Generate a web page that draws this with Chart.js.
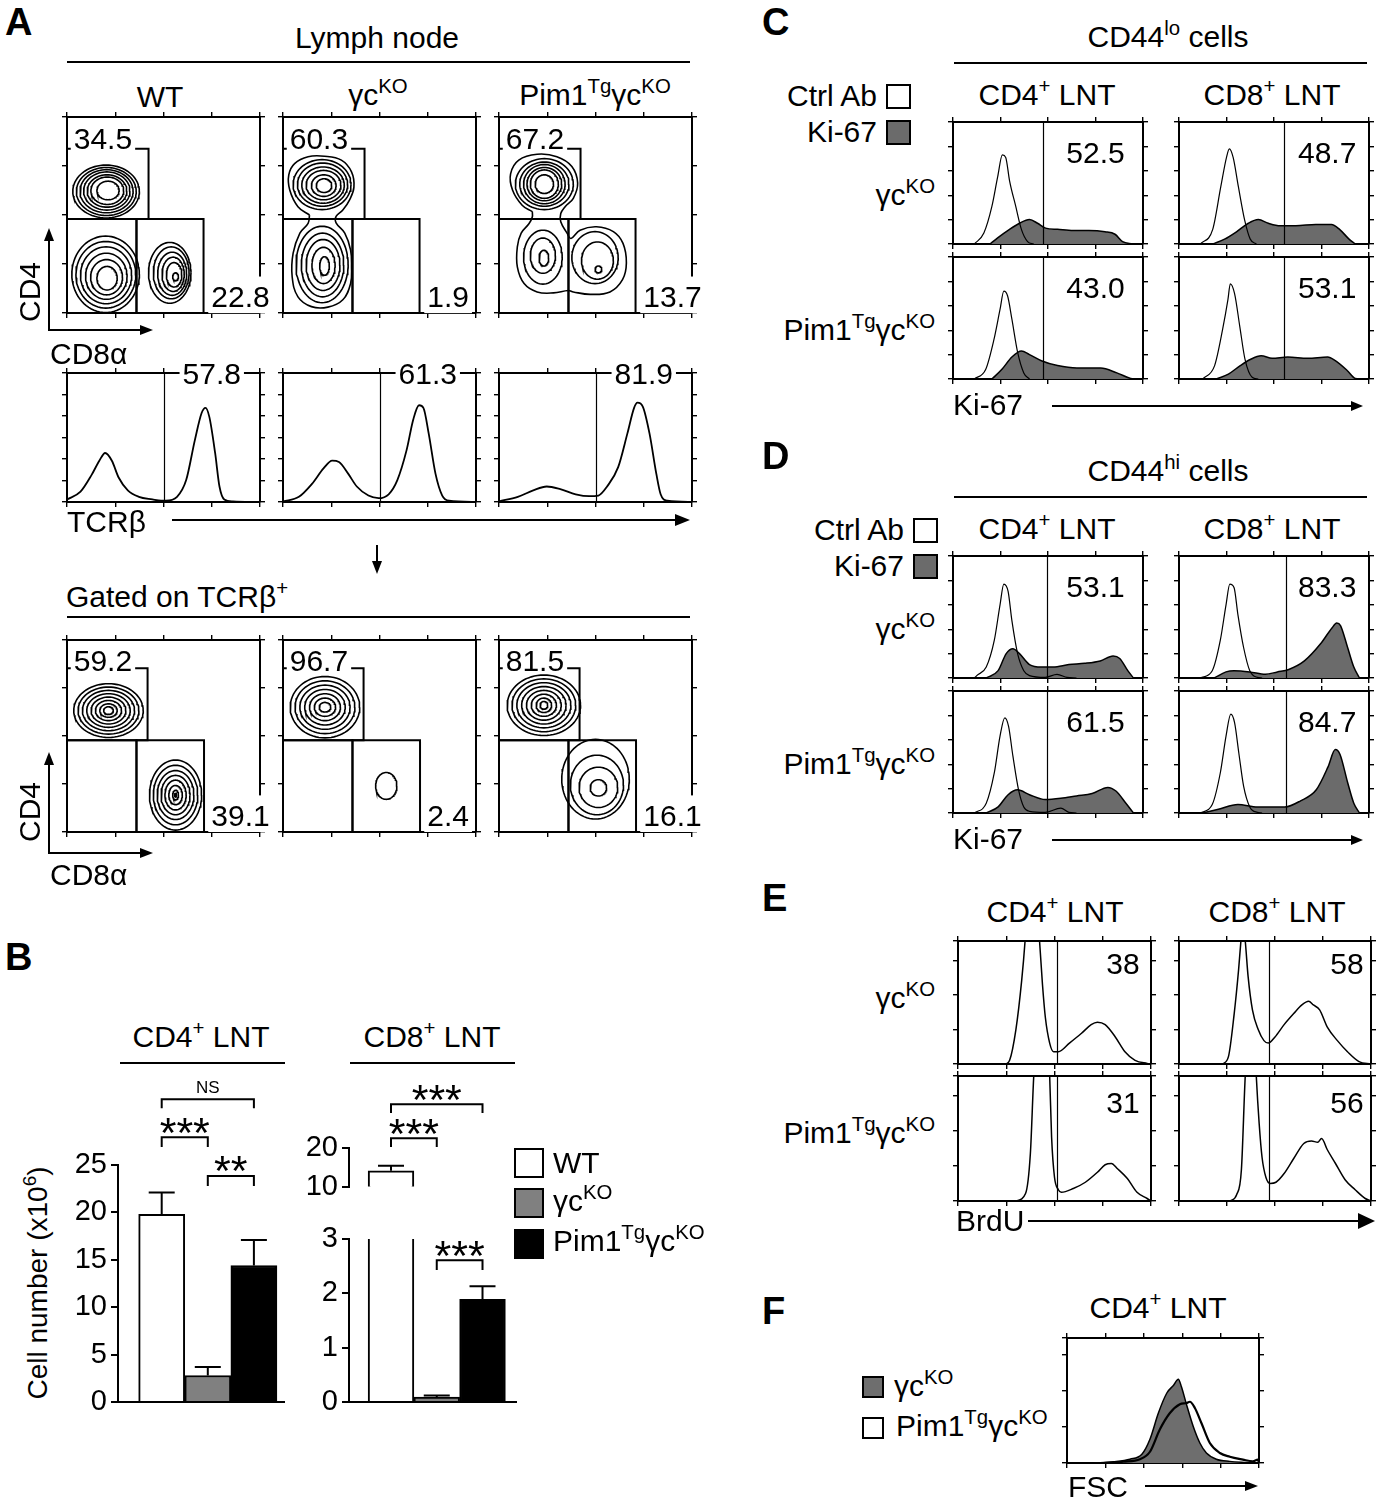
<!DOCTYPE html>
<html><head><meta charset="utf-8"><title>Figure</title>
<script src="https://cdn.jsdelivr.net/npm/chart.js@4.4.1/dist/chart.umd.min.js"></script>
<style>
html,body{margin:0;padding:0;background:#fff;}
#root{position:relative;width:1379px;height:1500px;overflow:hidden;background:#fff;font-family:"Liberation Sans",Arial,Helvetica,sans-serif;color:#000;}
#root canvas{position:absolute;}
.t{position:absolute;white-space:nowrap;line-height:1;}
.t sup{font-size:0.68em;line-height:0;vertical-align:0.58em;}
.hl{position:absolute;background:#000;}
.tri{position:absolute;width:0;height:0;}
.box{position:absolute;box-sizing:border-box;border:2px solid #000;}
</style></head><body><div id="root"></div>
<script>
// ======================= DATA =======================
// Panel A: contour plots (x = CD8α decades 0-4, y = CD4 decades 0-4); rings = [cx, cy, rx, ry]
const ringsTopWT = [
  [0.81,2.48,0.69,0.54],[0.815,2.48,0.62,0.49],[0.82,2.485,0.55,0.44],[0.825,2.49,0.48,0.39],[0.83,2.49,0.41,0.33],[0.835,2.495,0.34,0.28],[0.85,2.5,0.23,0.19],
  [0.8,0.79,0.7,0.78],[0.805,0.78,0.62,0.68],[0.81,0.77,0.53,0.58],[0.815,0.75,0.43,0.47],[0.82,0.73,0.33,0.36],[0.83,0.71,0.21,0.24],
  [2.13,0.82,0.44,0.62],[2.16,0.82,0.37,0.53],[2.18,0.8,0.3,0.44],[2.2,0.79,0.23,0.35],[2.22,0.78,0.16,0.25],[2.25,0.74,0.06,0.08]
];
const ringsTopGC = [
  [0.81,2.62,0.6,0.51],[0.82,2.62,0.52,0.44],[0.83,2.61,0.44,0.37],[0.84,2.61,0.36,0.3],[0.845,2.6,0.255,0.22],[0.85,2.6,0.16,0.14],
  [0.81,0.99,0.54,0.78],[0.82,0.98,0.44,0.65],[0.83,0.98,0.35,0.52],[0.84,0.97,0.24,0.37],[0.86,0.96,0.1,0.19]
];
const outlineTopGC = [[0.55,2.0],[0.31,2.17],[0.14,2.51],[0.12,2.82],[0.24,3.05],[0.52,3.19],[0.86,3.2],[1.21,3.12],[1.42,2.88],[1.47,2.57],[1.38,2.31],[1.24,2.1],[1.1,1.97],[1.1,1.84],[1.28,1.63],[1.4,1.29],[1.42,0.95],[1.4,0.6],[1.24,0.27],[0.93,0.12],[0.59,0.13],[0.31,0.33],[0.19,0.74],[0.21,1.22],[0.35,1.63],[0.52,1.83],[0.55,2.0]];
const ringsTopPim = [
  [0.94,2.63,0.6,0.52],[0.94,2.63,0.51,0.45],[0.94,2.63,0.43,0.4],[0.94,2.63,0.36,0.34],[0.94,2.63,0.29,0.29],[0.94,2.63,0.19,0.19],
  [0.91,1.14,0.4,0.55],[0.91,1.17,0.26,0.36],[0.93,1.12,0.1,0.16],
  [1.99,1.13,0.48,0.53],[2.04,1.07,0.33,0.38],[2.06,0.89,0.07,0.07]
];
const outlineTopPim = [[0.69,2.07],[0.48,2.2],[0.28,2.51],[0.24,2.84],[0.41,3.12],[0.79,3.24],[1.2,3.19],[1.51,2.99],[1.63,2.65],[1.54,2.34],[1.37,2.17],[1.28,2.03],[1.28,1.86],[1.41,1.63],[1.49,1.52],[1.68,1.69],[2.02,1.76],[2.37,1.66],[2.57,1.42],[2.64,1.02],[2.56,0.68],[2.3,0.43],[1.89,0.38],[1.54,0.43],[1.44,0.46],[1.13,0.41],[0.79,0.43],[0.52,0.6],[0.38,0.94],[0.38,1.35],[0.46,1.63],[0.62,1.82],[0.69,1.96],[0.69,2.07]];
const ringsBotWT = [
  [0.86,2.53,0.72,0.56],[0.86,2.53,0.63,0.49],[0.86,2.53,0.54,0.42],[0.86,2.53,0.45,0.35],[0.86,2.53,0.36,0.28],[0.86,2.53,0.27,0.21],[0.86,2.53,0.18,0.14],[0.86,2.53,0.1,0.08],
  [2.25,0.77,0.54,0.73],[2.25,0.77,0.46,0.62],[2.25,0.77,0.38,0.51],[2.25,0.77,0.3,0.41],[2.25,0.77,0.22,0.31],[2.25,0.77,0.14,0.2],[2.25,0.77,0.06,0.1],[2.25,0.77,0.02,0.04]
];
const ringsBotGC = [
  [0.87,2.6,0.72,0.64],[0.87,2.6,0.62,0.55],[0.87,2.6,0.52,0.46],[0.87,2.6,0.42,0.37],[0.87,2.6,0.32,0.28],[0.87,2.6,0.22,0.19],[0.87,2.6,0.12,0.1],
  [2.14,0.96,0.22,0.28]
];
const ringsBotPim = [
  [0.93,2.64,0.76,0.63],[0.93,2.64,0.66,0.55],[0.93,2.64,0.56,0.47],[0.93,2.64,0.46,0.39],[0.93,2.64,0.36,0.31],[0.93,2.64,0.26,0.23],[0.93,2.64,0.16,0.15],[0.93,2.64,0.08,0.08],
  [2.0,1.1,0.7,0.83],[2.03,0.98,0.55,0.62],[2.06,0.93,0.4,0.42],[2.06,0.92,0.17,0.17]
];
// gates [x0, x1, y0, y1]: CD4 SP, DN, CD8 SP
const gatesTop = [[0,1.69,1.92,3.35],[0,1.44,0,1.92],[1.44,2.83,0,1.92]];
const gatesBot = [[0,1.67,1.91,3.41],[0,1.44,0,1.91],[1.44,2.84,0,1.91]];
const pctTopCD4 = ['34.5','60.3','67.2'];
const pctTopCD8 = ['22.8','1.9','13.7'];
const pctBotCD4 = ['59.2','96.7','81.5'];
const pctBotCD8 = ['39.1','2.4','16.1'];
// Panel A: TCRβ histograms [x, % of max]
const histTcrWT = [[0,2],[0.28,8],[0.51,21],[0.67,32],[0.79,38],[0.93,32],[1.07,19],[1.26,9],[1.49,4],[1.77,2],[1.95,1],[2.05,1],[2.28,4],[2.47,17],[2.65,48],[2.79,69],[2.87,73],[2.95,66],[3.07,38],[3.16,12],[3.26,2],[3.44,0.5],[4,0]];
const histTcrGC = [[0,0.5],[0.33,4],[0.6,14],[0.84,26],[1.02,32],[1.16,31],[1.35,22],[1.53,12],[1.77,5],[1.98,3],[2.19,6],[2.37,17],[2.56,40],[2.7,64],[2.82,75],[2.91,73],[3.02,53],[3.16,22],[3.3,5],[3.44,1],[4,0]];
const histTcrPim = [[0,0.5],[0.39,4],[0.71,9],[0.99,12],[1.27,10],[1.59,6],[1.87,4.5],[2.06,5],[2.24,12],[2.47,27],[2.66,53],[2.8,73],[2.87,77],[2.98,74],[3.12,53],[3.26,22],[3.35,6],[3.49,1],[4,0]];
const pctTcr = ['57.8','61.3','81.9'];

// Panel B: cell numbers (x10^6)
const bGroups = ['WT','γcKO','Pim1TgγcKO'];
const bColors = ['#ffffff','#808080','#000000'];
const cd4Mean = [19.8, 2.8, 14.4];
const cd4Sem  = [2.3, 0.9, 2.7];
const cd8Mean = [14.1, 0.09, 1.89];
const cd8Sem  = [1.3, 0.03, 0.24];
const cd4Ticks = [0,5,10,15,20,25];
const cd8HiTicks = [10,20];
const cd8LoTicks = [0,1,2,3];

// Panel C: Ki-67, CD44lo
const cCD4gcCtrl = [[0.45,0],[0.65,9],[0.82,31],[0.94,55],[1.04,73],[1.11,71],[1.19,52],[1.32,31],[1.44,12],[1.57,2],[1.7,0]];
const cCD4gcKi = [[0.78,0],[0.94,5],[1.19,12],[1.4,17],[1.61,20],[1.78,17],[1.95,13],[2.2,12],[2.53,11],[2.86,11],[3.2,10],[3.41,8],[3.57,2],[3.78,0]];
const cCD8gcCtrl = [[0.45,0],[0.71,12],[0.88,47],[1.0,71],[1.06,78],[1.14,71],[1.25,47],[1.38,20],[1.5,4],[1.63,0]];
const cCD8gcKi = [[0.71,0],[0.96,4],[1.21,10],[1.46,17],[1.67,20],[1.88,17],[2.13,15],[2.46,15],[2.88,16],[3.21,16],[3.38,12],[3.58,4],[3.71,0]];
const cCD4pimCtrl = [[0.45,0],[0.69,8],[0.86,32],[0.99,57],[1.07,72],[1.15,68],[1.24,49],[1.36,22],[1.49,5],[1.61,0]];
const cCD4pimKi = [[0.82,0],[1.03,8],[1.24,18],[1.44,23],[1.61,20],[1.86,15],[2.2,11],[2.61,9],[3.11,9],[3.45,5],[3.74,0.5],[3.87,0]];
const cCD8pimCtrl = [[0.5,0],[0.75,11],[0.92,41],[1.03,65],[1.08,78],[1.17,70],[1.28,43],[1.39,16],[1.54,1.4],[1.67,0]];
const cCD8pimKi = [[0.79,0],[1.04,4],[1.29,11],[1.5,16],[1.73,19],[1.96,17],[2.29,18],[2.71,17],[3.13,18],[3.29,15],[3.54,7],[3.71,0.5],[3.83,0]];
const cPct = ['52.5','48.7','43.0','53.1'];

// Panel D: Ki-67, CD44hi
const dCD4gcCtrl = [[0.45,0],[0.5,2],[0.7,9],[0.87,31],[0.99,60],[1.07,77],[1.16,71],[1.24,47],[1.36,20],[1.49,6],[1.61,2],[1.94,0.5],[2.19,3],[2.4,0.5],[2.6,0]];
const dCD4gcKi = [[0.7,0],[0.95,6],[1.12,20],[1.26,24],[1.4,20],[1.61,11],[1.86,9],[2.11,9],[2.44,11],[2.77,12],[3.1,14],[3.37,18],[3.51,16],[3.68,6],[3.8,0]];
const dCD8gcCtrl = [[0.45,0],[0.7,6],[0.87,31],[0.99,60],[1.07,77],[1.16,74],[1.24,52],[1.36,25],[1.49,6],[1.65,0.5],[1.75,0]];
const dCD8gcKi = [[0.74,0],[0.99,5],[1.16,6],[1.49,5],[1.82,3],[2.07,5],[2.31,7],[2.64,14],[2.98,28],[3.22,41],[3.32,45],[3.4,43],[3.55,25],[3.68,9],[3.8,0]];
const dCD4pimCtrl = [[0.45,0],[0.7,8],[0.87,33],[0.99,63],[1.09,78],[1.17,71],[1.26,47],[1.38,19],[1.49,5],[1.61,1.4],[1.94,0.5],[2.27,4],[2.44,0.5],[2.6,0]];
const dCD4pimKi = [[0.7,0],[0.95,5],[1.16,15],[1.36,19],[1.61,15],[1.94,11],[2.27,12],[2.6,14],[2.93,16],[3.26,21],[3.43,18],[3.64,8],[3.8,0]];
const dCD8pimCtrl = [[0.45,0],[0.7,7],[0.87,33],[0.99,63],[1.09,81],[1.17,74],[1.26,49],[1.36,22],[1.49,5],[1.65,0.5],[1.75,0]];
const dCD8pimKi = [[0.5,0],[0.83,3],[1.24,7],[1.65,5],[2.23,5],[2.56,10],[2.89,19],[3.14,38],[3.29,52],[3.39,48],[3.55,25],[3.68,8],[3.8,0]];
const dPct = ['53.1','83.3','61.5','84.7'];

// Panel E: BrdU
const eCD4gc = [[0.99,0],[1.07,3],[1.2,28],[1.32,68],[1.39,100],[1.47,150],[1.55,160],[1.63,140],[1.69,100],[1.75,65],[1.81,38],[1.9,17],[1.98,10],[2.08,10],[2.31,17],[2.56,25],[2.76,32],[2.89,34],[3.05,32],[3.26,22],[3.46,10],[3.67,3],[3.92,0.5],[4,0]];
const eCD8gc = [[0.91,0],[1.03,6],[1.15,41],[1.24,76],[1.29,100],[1.33,115],[1.38,100],[1.44,71],[1.53,44],[1.65,28],[1.77,19],[1.86,17],[2.0,22],[2.19,32],[2.39,41],[2.56,48],[2.7,51],[2.8,48],[2.93,44],[3.09,30],[3.3,19],[3.51,10],[3.75,2],[4,0]];
const eCD4pim = [[1.2,0],[1.4,6],[1.5,38],[1.57,100],[1.66,150],[1.74,165],[1.83,150],[1.9,100],[1.94,51],[2.0,19],[2.08,9],[2.14,7],[2.39,10],[2.64,15],[2.89,23],[3.05,29],[3.18,30],[3.3,26],[3.51,18],[3.71,7],[3.92,2],[4,0]];
const eCD8pim = [[1.07,0],[1.2,5],[1.3,25],[1.38,100],[1.45,140],[1.52,150],[1.57,135],[1.61,100],[1.67,62],[1.73,35],[1.81,19],[1.9,14],[2.02,15],[2.19,22],[2.39,34],[2.6,46],[2.76,48],[2.89,47],[2.97,50],[3.09,41],[3.26,30],[3.46,17],[3.67,9],[3.88,2],[4,0]];
const ePct = ['38','58','31','56'];

// Panel F: FSC
const fGC = [[0.69,0],[1.21,1],[1.64,3],[1.95,7],[2.16,19],[2.38,40],[2.6,56],[2.77,62],[2.9,67],[2.98,61],[3.11,47],[3.29,29],[3.46,16],[3.63,8],[3.89,3],[4.24,1.3],[4.67,0.5],[5,0]];
const fPim = [[0.95,0],[1.47,1],[1.9,3],[2.16,9],[2.42,27],[2.68,40],[2.94,47],[3.11,48],[3.2,49],[3.33,44],[3.5,32],[3.72,16],[3.98,8],[4.24,5],[4.58,2.7],[4.84,1.3],[4.97,2.7],[5,0]];

// ======================= SETUP =======================
const root = document.getElementById('root');
const FONT = '"Liberation Sans", Arial, Helvetica, sans-serif';
const FS = 30;
Chart.defaults.font.family = FONT;
Chart.defaults.color = '#000';
Chart.defaults.animation = false;
Chart.defaults.responsive = false;
Chart.defaults.maintainAspectRatio = false;
Chart.defaults.events = [];
Chart.defaults.plugins.legend.display = false;
Chart.defaults.plugins.tooltip.enabled = false;
const FM = 16;

function T(html, x, y, o = {}) {
  const d = document.createElement('div'); d.className = 't'; d.innerHTML = html;
  d.style.left = x + 'px'; d.style.top = y + 'px'; d.style.fontSize = (o.size || FS) + 'px';
  if (o.bold) d.style.fontWeight = 'bold';
  const ax = o.align === 'left' ? '0%' : (o.align === 'right' ? '-100%' : '-50%');
  d.style.transform = `translate(${ax},-50%)` + (o.rot ? ` rotate(${o.rot}deg)` : '');
  root.appendChild(d);
}
function hline(x1, x2, y, w = 2) { const d = document.createElement('div'); d.className = 'hl'; d.style.left = x1 + 'px'; d.style.top = (y - w / 2) + 'px'; d.style.width = (x2 - x1) + 'px'; d.style.height = w + 'px'; root.appendChild(d); }
function vline(x, y1, y2, w = 2) { const d = document.createElement('div'); d.className = 'hl'; d.style.left = (x - w / 2) + 'px'; d.style.top = y1 + 'px'; d.style.width = w + 'px'; d.style.height = (y2 - y1) + 'px'; root.appendChild(d); }
function tri(css) { const d = document.createElement('div'); d.className = 'tri'; Object.assign(d.style, css); root.appendChild(d); }
function arrowR(x1, x2, y, len, half, w = 2) { hline(x1, x2 - len + 1, y, w); tri({left: (x2 - len) + 'px', top: (y - half) + 'px', borderTop: half + 'px solid transparent', borderBottom: half + 'px solid transparent', borderLeft: len + 'px solid #000'}); }
function arrowU(x, yb, yt, len, half, w = 2) { vline(x, yt + len - 1, yb, w); tri({left: (x - half) + 'px', top: yt + 'px', borderLeft: half + 'px solid transparent', borderRight: half + 'px solid transparent', borderBottom: len + 'px solid #000'}); }
function arrowD(x, yt, yb, len, half, w = 2) { vline(x, yt, yb - len + 1, w); tri({left: (x - half) + 'px', top: (yb - len) + 'px', borderLeft: half + 'px solid transparent', borderRight: half + 'px solid transparent', borderTop: len + 'px solid #000'}); }
function box(x, y, w, h, fill) { const d = document.createElement('div'); d.className = 'box'; Object.assign(d.style, {left: x + 'px', top: y + 'px', width: w + 'px', height: h + 'px', background: fill}); root.appendChild(d); }
function mkCanvas(x, y, w, h) { const c = document.createElement('canvas'); c.width = w; c.height = h; Object.assign(c.style, {left: x + 'px', top: y + 'px', width: w + 'px', height: h + 'px'}); root.appendChild(c); return c; }

// decoration plugin: gate lines and percentage labels placed in data units
const decor = {
  id: 'decor',
  afterDraw(chart, args, o) {
    const ctx = chart.ctx, xs = chart.scales.x, ys = chart.scales.y, ca = chart.chartArea;
    ctx.save();
    (o.vlines || []).forEach(v => {
      const px = Math.round(xs.getPixelForValue(v)) + 0.5;
      ctx.strokeStyle = '#000'; ctx.lineWidth = 1.2; ctx.beginPath(); ctx.moveTo(px, ca.top); ctx.lineTo(px, ca.bottom); ctx.stroke();
    });
    (o.labels || []).forEach(l => {
      const size = l.size || FS; ctx.font = `${size}px ${FONT}`;
      const w = ctx.measureText(l.t).width;
      const px = xs.getPixelForValue(l.x), py = ys.getPixelForValue(l.y);
      const left = l.align === 'left' ? px : (l.align === 'right' ? px - w : px - w / 2);
      if (l.bg) { const pt = l.padTop || 4, pb = l.padBot || 4; ctx.fillStyle = '#fff'; ctx.fillRect(left - 3, py - 0.36 * size - pt, w + 6, 0.72 * size + pt + pb); }
      ctx.fillStyle = '#000'; ctx.textAlign = 'left'; ctx.textBaseline = 'alphabetic';
      ctx.fillText(l.t, left, py + 0.36 * size);
    });
    ctx.restore();
  }
};

function flowScales(xt, yt) {
  const grid = {display: true, drawOnChartArea: false, drawTicks: true, tickLength: 5, color: '#000', lineWidth: 1.4};
  const border = {display: true, color: '#000', width: 2};
  const mk = (pos, list) => {
    const horiz = pos === 'top' || pos === 'bottom';
    return {
      type: 'linear', position: pos, min: list[0], max: list[list.length - 1],
      ticks: {display: false}, grid, border,
      afterBuildTicks: s => { s.ticks = list.map(v => ({value: v})); },
      afterFit: s => { if (horiz) s.height = FM; else s.width = FM; }
    };
  };
  return {x: mk('bottom', xt), x2: mk('top', xt), y: mk('left', yt), y2: mk('right', yt)};
}

function ellipsePts(r) { const [cx, cy, rx, ry] = r; const p = []; for (let k = 0; k <= 72; k++) { const a = k / 72 * 2 * Math.PI; p.push({x: cx + rx * Math.cos(a), y: cy + ry * Math.sin(a)}); } return p; }
function rectPts(g) { const [x0, x1, y0, y1] = g; return [{x: x0, y: y0}, {x: x1, y: y0}, {x: x1, y: y1}, {x: x0, y: y1}, {x: x0, y: y0}]; }
const lineDs = (data, w, tension) => ({data, showLine: true, pointRadius: 0, borderColor: '#000', borderWidth: w, fill: false, tension});

function contourChart(x0, y0, w, h, rings, outlines, gates, lab4, lab8, ly4, ly8) {
  const ds = [];
  rings.forEach(r => ds.push(lineDs(ellipsePts(r), 1.6, 0)));
  outlines.forEach(o => ds.push(lineDs(o.map(([x, y]) => ({x, y})), 1.6, 0.4)));
  gates.forEach(g => ds.push(lineDs(rectPts(g), 2, 0)));
  const cv = mkCanvas(x0 - FM, y0 - FM, w + 2 * FM, h + 2 * FM);
  new Chart(cv, {type: 'scatter', data: {datasets: ds},
    options: {scales: flowScales([0, 1, 2, 3, 4], [0, 1, 2, 3, 4]),
      plugins: {decor: {labels: [{t: lab4, x: 0.14, y: ly4, align: 'left', bg: true, padTop: 3, padBot: 3}, {t: lab8, x: 2.99, y: ly8, align: 'left', bg: true, padTop: 9, padBot: 6}]}}},
    plugins: [decor]});
}
const openCurve = (pts, w) => ({data: pts.map(([x, y]) => ({x, y})), borderColor: '#000', borderWidth: w || 1.2, fill: false, pointRadius: 0, cubicInterpolationMode: 'monotone'});
const filledCurve = (pts, col, w) => ({data: pts.map(([x, y]) => ({x, y})), borderColor: '#000', borderWidth: w || 1.5, fill: 'origin', backgroundColor: col, pointRadius: 0, cubicInterpolationMode: 'monotone'});
function histChart(x0, y0, w, h, datasets, dec, xt, yt) {
  const cv = mkCanvas(x0 - FM, y0 - FM, w + 2 * FM, h + 2 * FM);
  new Chart(cv, {type: 'line', data: {datasets}, options: {scales: flowScales(xt, yt), plugins: {decor: dec}}, plugins: [decor]});
}

// ======================= PANEL A =======================
T('A', 5, 22, {size: 38, bold: true, align: 'left'});
T('Lymph node', 377, 38);
hline(67, 690, 62);
T('WT', 160, 97); T('γc<sup>KO</sup>', 378, 95); T('Pim1<sup>Tg</sup>γc<sup>KO</sup>', 595, 95);
const aX = [67, 283, 499], aW = 193;
contourChart(aX[0], 117, aW, 196, ringsTopWT, [], gatesTop, pctTopCD4[0], pctTopCD8[0], 3.56, 0.34);
contourChart(aX[1], 117, aW, 196, ringsTopGC, [outlineTopGC], gatesTop, pctTopCD4[1], pctTopCD8[1], 3.56, 0.34);
contourChart(aX[2], 117, aW, 196, ringsTopPim, [outlineTopPim], gatesTop, pctTopCD4[2], pctTopCD8[2], 3.56, 0.34);
arrowU(49, 331, 228, 13, 5); arrowR(48, 153, 330, 13, 5);
T('CD4', 30, 292, {rot: -90}); T('CD8α', 50, 354, {align: 'left'});
const hA = [histTcrWT, histTcrGC, histTcrPim];
const tcrTicks = [0, 16.67, 33.33, 50, 66.67, 83.33, 100];
hA.forEach((h, i) => histChart(aX[i], 373, aW, 129, [openCurve(h, 1.8)], {vlines: [2], labels: [{t: pctTcr[i], x: 3.0, y: 100, bg: true}]}, [0, 1, 2, 3, 4], tcrTicks));
T('TCRβ', 67, 522, {align: 'left'});
arrowR(172, 690, 520, 15, 6);
arrowD(377, 545, 574, 13, 5);
T('Gated on TCRβ<sup>+</sup>', 66, 597, {align: 'left'});
hline(67, 690, 617);
contourChart(aX[0], 640, aW, 192, ringsBotWT, [], gatesBot, pctBotCD4[0], pctBotCD8[0], 3.58, 0.35);
contourChart(aX[1], 640, aW, 192, ringsBotGC, [], gatesBot, pctBotCD4[1], pctBotCD8[1], 3.58, 0.35);
contourChart(aX[2], 640, aW, 192, ringsBotPim, [], gatesBot, pctBotCD4[2], pctBotCD8[2], 3.58, 0.35);
arrowU(49, 854, 752, 13, 5); arrowR(48, 153, 853, 13, 5);
T('CD4', 30, 812, {rot: -90}); T('CD8α', 50, 875, {align: 'left'});

// ======================= PANEL B =======================
T('B', 5, 957, {size: 38, bold: true, align: 'left'});
T('CD4<sup>+</sup> LNT', 201, 1037); hline(120, 285, 1063);
T('CD8<sup>+</sup> LNT', 432, 1037); hline(350, 515, 1063);
T('Cell number (x10<sup>6</sup>)', 38, 1283, {rot: -90, size: 28});

const errPlugin = {
  id: 'errbars',
  afterDatasetsDraw(chart, a, o) {
    const {ctx, chartArea: ca} = chart, xs = chart.scales.x, ys = chart.scales.y;
    ctx.save(); ctx.beginPath(); ctx.rect(ca.left, ca.top - 2, ca.right - ca.left, ca.bottom - ca.top + 2); ctx.clip();
    ctx.strokeStyle = '#000'; ctx.lineWidth = 2;
    o.means.forEach((m, i) => {
      const px = xs.getPixelForValue(i + 1), y1 = ys.getPixelForValue(m), y2 = ys.getPixelForValue(m + o.sems[i]);
      ctx.beginPath(); ctx.moveTo(px, y1); ctx.lineTo(px, y2); ctx.moveTo(px - 13, y2); ctx.lineTo(px + 13, y2); ctx.stroke();
    });
    ctx.restore();
  }
};
const bracketPlugin = {
  id: 'brackets',
  afterDraw(chart, a, o) {
    const {ctx} = chart, xs = chart.scales.x, ys = chart.scales.y;
    ctx.save(); ctx.strokeStyle = '#000'; ctx.lineWidth = 2; ctx.fillStyle = '#000'; ctx.textAlign = 'center'; ctx.textBaseline = 'alphabetic';
    (o.list || []).forEach(b => {
      const x1 = xs.getPixelForValue(b.from), x2 = xs.getPixelForValue(b.to), y = ys.getPixelForValue(b.y), yl = ys.getPixelForValue(b.y - b.leg);
      ctx.beginPath(); ctx.moveTo(x1, yl); ctx.lineTo(x1, y); ctx.lineTo(x2, y); ctx.lineTo(x2, yl); ctx.stroke();
      ctx.font = `${b.size}px ${FONT}`;
      const m = ctx.measureText(b.label);
      const desc = isFinite(m.actualBoundingBoxDescent) ? m.actualBoundingBoxDescent : 0;
      ctx.fillText(b.label, (x1 + x2) / 2, y - b.gap - desc);
    });
    ctx.restore();
  }
};
function barChart(cx, cy, cw, ch, means, sems, o) {
  const cv = mkCanvas(cx, cy, cw, ch);
  new Chart(cv, {
    type: 'bar',
    data: {labels: bGroups, datasets: [{data: means.map((m, i) => ({x: i + 1, y: m})), backgroundColor: bColors, borderColor: '#000', borderWidth: 2, barPercentage: 1, categoryPercentage: 1, borderSkipped: 'start'}]},
    options: {
      layout: {padding: {top: o.padTop, right: o.padRight, bottom: 0, left: 0}},
      scales: {
        x: {type: 'linear', min: o.xmin, max: o.xmax, offset: false, ticks: {display: false}, grid: {display: true, drawOnChartArea: false, drawTicks: false}, border: {display: o.xBorder, width: 2, color: '#000'}, afterFit: s => { s.height = o.xh; }},
        y: {type: 'linear', min: o.ticks[0], max: o.ticks[o.ticks.length - 1], afterBuildTicks: s => { s.ticks = o.ticks.map(v => ({value: v})); },
          ticks: {font: {size: 29}, color: '#000', padding: 4}, grid: {display: true, drawOnChartArea: false, drawTicks: true, tickLength: 7, color: '#000', lineWidth: 2},
          border: {display: true, width: 2, color: '#000'}, afterFit: s => { s.width = o.yw; }}
      },
      plugins: {errbars: {means, sems}, brackets: {list: o.brackets}}
    },
    plugins: [errPlugin, bracketPlugin]
  });
}
const ast = (from, to, y, leg, label) => ({from, to, y, leg, label, size: label === 'NS' ? 17 : 43, gap: label === 'NS' ? 6 : 4.5});
barChart(0, 1070, 300, 360, cd4Mean, cd4Sem, {padTop: 95, padRight: 16, xmin: 0.052, xmax: 3.653, xBorder: true, xh: 28, yw: 118, ticks: cd4Ticks,
  brackets: [ast(1, 3, 31.93, 0.95, 'NS'), ast(1, 2, 27.92, 1.02, '***'), ast(2, 3, 23.84, 1.05, '**')]});
barChart(250, 1060, 276, 148, cd8Mean, cd8Sem, {padTop: 88, padRight: 10, xmin: 0.082, xmax: 3.732, xBorder: false, xh: 16, yw: 99, ticks: cd8HiTicks,
  brackets: [ast(1, 3, 31.36, 2.27, '***'), ast(1, 2, 22.5, 2.27, '***')]});
barChart(250, 1205, 276, 225, cd8Mean, cd8Sem, {padTop: 34, padRight: 10, xmin: 0.082, xmax: 3.732, xBorder: true, xh: 28, yw: 99, ticks: cd8LoTicks,
  brackets: [ast(2, 3, 2.61, 0.18, '***')]});
box(514, 1148, 30, 30, '#fff'); T('WT', 553, 1163, {align: 'left'});
box(514, 1188, 30, 30, '#808080'); T('γc<sup>KO</sup>', 553, 1201, {align: 'left'});
box(514, 1229, 30, 30, '#000'); T('Pim1<sup>Tg</sup>γc<sup>KO</sup>', 553, 1241, {align: 'left'});

// ======================= PANELS C & D =======================
const kiX = [953, 1179], kiW = 190;
const kiGrey = '#6b6b6b';
const xt4 = [0, 1, 2, 3, 4], yt5 = [0, 20, 40, 60, 80, 100];
function kiPanel(letter, title, top, legX, gates, rows, pcts) {
  T(letter, 762, top + 22, {size: 38, bold: true, align: 'left'});
  T(title, 1168, top + 37); hline(954, 1367, top + 63);
  T('CD4<sup>+</sup> LNT', 1047, top + 95); T('CD8<sup>+</sup> LNT', 1272, top + 95);
  T('Ctrl Ab', legX - 9, top + 96, {align: 'right'}); box(legX, top + 84, 25, 25, '#fff');
  T('Ki-67', legX - 9, top + 132, {align: 'right'}); box(legX, top + 120, 25, 25, kiGrey);
  T('γc<sup>KO</sup>', 935, top + 195, {align: 'right'});
  T('Pim1<sup>Tg</sup>γc<sup>KO</sup>', 935, top + 330, {align: 'right'});
  const rowY = [top + 122, top + 257];
  rows.forEach((r, ri) => r.forEach((pair, ci) => {
    histChart(kiX[ci], rowY[ri], kiW, 122, [openCurve(pair[0], 1.2), filledCurve(pair[1], kiGrey, 1.5)],
      {vlines: [gates[ci]], labels: [{t: pcts[ri * 2 + ci], x: ci === 0 ? 3.0 : 3.12, y: 75}]}, xt4, yt5);
  }));
  T('Ki-67', 953, top + 405, {align: 'left'});
  arrowR(1052, 1363, top + 406, 12, 5, 1.5);
}
kiPanel('C', 'CD44<sup>lo</sup> cells', 0, 886, [1.9, 2.22],
  [[[cCD4gcCtrl, cCD4gcKi], [cCD8gcCtrl, cCD8gcKi]], [[cCD4pimCtrl, cCD4pimKi], [cCD8pimCtrl, cCD8pimKi]]], cPct);
kiPanel('D', 'CD44<sup>hi</sup> cells', 434, 913, [1.97, 2.25],
  [[[dCD4gcCtrl, dCD4gcKi], [dCD8gcCtrl, dCD8gcKi]], [[dCD4pimCtrl, dCD4pimKi], [dCD8pimCtrl, dCD8pimKi]]], dPct);

// ======================= PANEL E =======================
T('E', 762, 898, {size: 38, bold: true, align: 'left'});
T('CD4<sup>+</sup> LNT', 1055, 912); T('CD8<sup>+</sup> LNT', 1277, 912);
T('γc<sup>KO</sup>', 935, 998, {align: 'right'});
T('Pim1<sup>Tg</sup>γc<sup>KO</sup>', 935, 1133, {align: 'right'});
const eX = [958, 1179], eW = [193, 192];
const eRowsY = [941, 1076], eRowH = [123, 125];
const eCurves = [[eCD4gc, eCD8gc], [eCD4pim, eCD8pim]];
const eGates = [2.06, 1.88];
const yt4 = [0, 28, 56, 84, 100];
eCurves.forEach((r, ri) => r.forEach((c, ci) => {
  histChart(eX[ci], eRowsY[ri], eW[ci], eRowH[ri], [openCurve(c, 1.5)],
    {vlines: [eGates[ci]], labels: [{t: ePct[ri * 2 + ci], x: ci === 0 ? 3.42 : 3.5, y: ri === 0 ? 82 : 79}]}, xt4, yt4);
}));
T('BrdU', 956, 1221, {align: 'left'});
arrowR(1028, 1375, 1221, 17, 8);

// ======================= PANEL F =======================
T('F', 762, 1311, {size: 38, bold: true, align: 'left'});
T('CD4<sup>+</sup> LNT', 1158, 1308);
histChart(1067, 1338, 192, 125, [openCurve(fPim, 2.2), filledCurve(fGC, '#6e6e6e', 1.5)], {}, [0, 1, 2, 3, 4, 5], [0, 29, 58, 87, 100]);
box(862, 1376, 22, 22, '#6e6e6e'); T('γc<sup>KO</sup>', 894, 1386, {align: 'left'});
box(862, 1417, 22, 22, '#fff'); T('Pim1<sup>Tg</sup>γc<sup>KO</sup>', 896, 1426, {align: 'left'});
T('FSC', 1068, 1487, {align: 'left'});
arrowR(1145, 1258, 1486, 13, 5, 1.5);
</script></body></html>
